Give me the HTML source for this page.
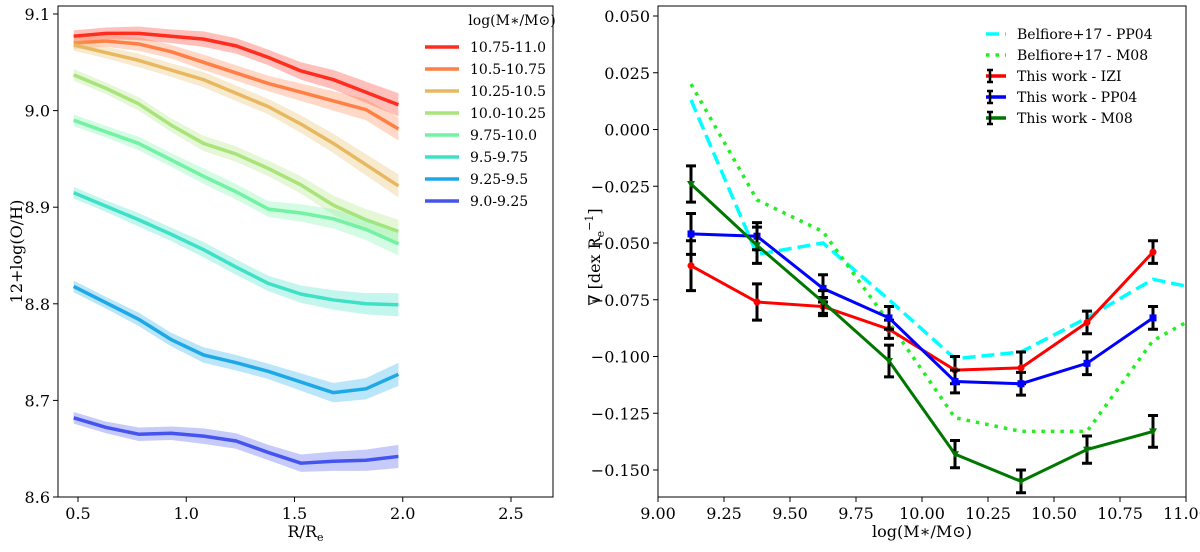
<!DOCTYPE html>
<html><head><meta charset="utf-8">
<style>
html,body{margin:0;padding:0;background:#fff;}
svg{display:block;font-family:"DejaVu Serif","Liberation Serif",serif;}
.tk{font-size:16px;fill:#000;}
.lg{font-family:"DejaVu Serif","Liberation Serif",serif;font-size:14px;fill:#000;}
</style></head>
<body>
<svg id="chart" width="1200" height="552" viewBox="0 0 1200 552"></svg>
<script>
// ---------- Left panel data ----------
const radii = [0.48,0.63,0.78,0.93,1.08,1.23,1.38,1.53,1.68,1.83,1.98];
const massBins = ["10.75-11.0","10.5-10.75","10.25-10.5","10.0-10.25","9.75-10.0","9.5-9.75","9.25-9.5","9.0-9.25"];
const binColors = ["#ff2d1e","#ff7f45","#e8b860","#a8e47a","#72f2a2","#3ee0c6","#1ea8e8","#4454ee"];
const ohRed    = [9.077,9.080,9.080,9.077,9.074,9.067,9.055,9.041,9.032,9.019,9.006];
const ohOrange = [9.070,9.072,9.069,9.061,9.050,9.039,9.028,9.019,9.010,9.001,8.981];
const ohYellow = [9.068,9.060,9.052,9.042,9.032,9.018,9.004,8.986,8.966,8.944,8.922];
const ohGreen  = [9.037,9.023,9.007,8.985,8.966,8.955,8.940,8.923,8.902,8.887,8.875];
const ohMint   = [8.990,8.978,8.966,8.949,8.932,8.916,8.898,8.894,8.888,8.877,8.862];
const ohTurq   = [8.915,8.901,8.887,8.872,8.856,8.838,8.821,8.810,8.804,8.800,8.799];
const ohBlue   = [8.818,8.801,8.784,8.763,8.747,8.739,8.730,8.719,8.708,8.712,8.727];
const ohIndigo = [8.682,8.672,8.665,8.666,8.663,8.658,8.646,8.635,8.637,8.638,8.642];
const ohErr    = [0.006,0.006,0.007,0.007,0.008,0.008,0.008,0.009,0.010,0.011,0.012];
const leftXTicks = [0.5,1.0,1.5,2.0,2.5];
const leftYTicks = [8.6,8.7,8.8,8.9,9.0,9.1];

// ---------- Right panel data ----------
const massCenters = [9.125,9.375,9.625,9.875,10.125,10.375,10.625,10.875];
const belfioreX = [9.125,9.375,9.625,9.875,10.125,10.375,10.625,10.875,11.0];
const belPP04 = [0.013,-0.055,-0.050,-0.075,-0.101,-0.098,-0.083,-0.066,-0.069];
const belM08  = [0.020,-0.031,-0.045,-0.085,-0.127,-0.133,-0.133,-0.093,-0.085];
const gradIZI  = [-0.060,-0.076,-0.078,-0.088,-0.106,-0.105,-0.085,-0.054];
const errIZI   = [0.011,0.008,0.004,0.004,0.006,0.007,0.005,0.005];
const gradPP04 = [-0.046,-0.047,-0.070,-0.083,-0.111,-0.112,-0.103,-0.083];
const errPP04  = [0.009,0.006,0.006,0.005,0.005,0.005,0.005,0.005];
const gradM08  = [-0.024,-0.051,-0.076,-0.102,-0.143,-0.155,-0.141,-0.133];
const errM08   = [0.008,0.008,0.005,0.007,0.006,0.005,0.006,0.007];
const rightXTicks = [9.00,9.25,9.50,9.75,10.00,10.25,10.50,10.75,11.00];
const rightYTicks = [0.050,0.025,0.000,-0.025,-0.050,-0.075,-0.100,-0.125,-0.150];

const svg = document.getElementById('chart');
const NS = "http://www.w3.org/2000/svg";
function mk(tag, attrs, parent){const e=document.createElementNS(NS,tag);for(const k in attrs)e.setAttribute(k,attrs[k]);(parent||svg).appendChild(e);return e;}

const L={x0:58,x1:553,y0:6,y1:497};
const lx = v => 78 + (v-0.5)*216.5;
const ly = v => 497 - (v-8.6)*966;
const R={x0:658,x1:1186,y0:6,y1:497};
const rx = v => 658 + (v-9)*264;
const ry = v => 16 + (0.05-v)*2270;

const seriesL=[ohRed,ohOrange,ohYellow,ohGreen,ohMint,ohTurq,ohBlue,ohIndigo];
seriesL.forEach((s,i)=>{
  let up=s.map((v,j)=>lx(radii[j])+","+ly(v+ohErr[j])).join(" ");
  let dn=s.map((v,j)=>lx(radii[j])+","+ly(v-ohErr[j])).reverse().join(" ");
  const band=mk('polygon',{points:up+" "+dn,fill:binColors[i],'fill-opacity':0.3});
  
  
  const ln=mk('polyline',{points:s.map((v,j)=>lx(radii[j])+","+ly(v)).join(" "),fill:'none',stroke:binColors[i],'stroke-width':3.5,'stroke-linejoin':'round'});
  
  
});
const lf=mk('rect',{x:L.x0,y:L.y0,width:L.x1-L.x0,height:L.y1-L.y0,fill:'none',stroke:'#000','stroke-width':1});

leftXTicks.forEach(t=>{mk('line',{x1:lx(t),x2:lx(t),y1:L.y1,y2:L.y1+5,stroke:'#000'});
  const e=mk('text',{x:lx(t),y:L.y1+22,'text-anchor':'middle',class:'tk'});e.textContent=t.toFixed(1);
  });
leftYTicks.forEach(t=>{mk('line',{x1:L.x0-5,x2:L.x0,y1:ly(t),y2:ly(t),stroke:'#000'});
  const e=mk('text',{x:L.x0-8,y:ly(t)+6,'text-anchor':'end',class:'tk'});e.textContent=t.toFixed(1);
  });
const lt=mk('text',{x:512,y:25,'text-anchor':'middle',class:'lg'});lt.textContent="log(M\u2217/M\u2299)";

massBins.forEach((b,i)=>{const y=47+i*22;
  mk('line',{x1:425,x2:459,y1:y,y2:y,stroke:binColors[i],'stroke-width':3.5});
  const e=mk('text',{x:470,y:y+5,class:'lg'});e.textContent=b;
  });
const lyl=mk('text',{x:0,y:0,'text-anchor':'middle',class:'tk',transform:`translate(22,${(L.y0+L.y1)/2}) rotate(-90)`});lyl.textContent="12+log(O/H)";

const lxl=mk('text',{x:(L.x0+L.x1)/2,y:L.y1+40,'text-anchor':'middle',class:'tk'});lxl.innerHTML='R/R<tspan font-size="11" dy="4">e</tspan>';


const clip=mk('clipPath',{id:'rc'});mk('rect',{x:R.x0,y:R.y0,width:R.x1-R.x0,height:R.y1-R.y0},clip);
const g=mk('g',{'clip-path':'url(#rc)'});
const b1=mk('polyline',{points:belPP04.map((v,j)=>rx(belfioreX[j])+","+ry(v)).join(" "),fill:'none',stroke:'#00ffff','stroke-width':3.5,'stroke-dasharray':'13,6'},g);

const b2=mk('polyline',{points:belM08.map((v,j)=>rx(belfioreX[j])+","+ry(v)).join(" "),fill:'none',stroke:'#22ee22','stroke-width':3.5,'stroke-dasharray':'3.5,6'},g);

const work=[[gradIZI,errIZI,'#ff0000','izi','circle'],[gradPP04,errPP04,'#0000ff','pp04','square'],[gradM08,errM08,'#007700','m08','tri']];
work.forEach(([s,e,c,n,m])=>{
  const ln=mk('polyline',{points:s.map((v,j)=>rx(massCenters[j])+","+ry(v)).join(" "),fill:'none',stroke:c,'stroke-width':3},g);
  
  s.forEach((v,j)=>{const x=rx(massCenters[j]),a=ry(v+e[j]),b=ry(v-e[j]);
    const eb=mk('path',{d:`M${x},${a}V${b}M${x-5},${a}H${x+5}M${x-5},${b}H${x+5}`,stroke:'#000','stroke-width':3,fill:'none'},g);
    
    let mkr;const y=ry(v);
    if(m==='circle')mkr=mk('circle',{cx:x,cy:y,r:3.5,fill:c},g);
    else if(m==='square')mkr=mk('rect',{x:x-3.5,y:y-3.5,width:7,height:7,fill:c},g);
    else mkr=mk('polygon',{points:`${x-4},${y-3} ${x+4},${y-3} ${x},${y+4}`,fill:c},g);
    });
});
const rf=mk('rect',{x:R.x0,y:R.y0,width:R.x1-R.x0,height:R.y1-R.y0,fill:'none',stroke:'#000','stroke-width':1});

rightXTicks.forEach(t=>{mk('line',{x1:rx(t),x2:rx(t),y1:R.y1,y2:R.y1+5,stroke:'#000'});
  const e=mk('text',{x:rx(t),y:R.y1+22,'text-anchor':'middle',class:'tk'});e.textContent=t.toFixed(2);
  });
rightYTicks.forEach(t=>{mk('line',{x1:R.x0-5,x2:R.x0,y1:ry(t),y2:ry(t),stroke:'#000'});
  const e=mk('text',{x:R.x0-8,y:ry(t)+6,'text-anchor':'end',class:'tk'});e.textContent=(t<0?'\u2212':'')+Math.abs(t).toFixed(3);
  });
const ryl=mk('text',{x:0,y:0,'text-anchor':'middle',class:'tk',transform:`translate(600,257) rotate(-90)`});
ryl.innerHTML='\u2207 [dex R<tspan font-size="11" dy="4">e</tspan><tspan font-size="11" dy="-11">\u22121</tspan><tspan dy="7">]</tspan>';

const rxl=mk('text',{x:(R.x0+R.x1)/2,y:R.y1+40,'text-anchor':'middle',class:'tk'});rxl.textContent="log(M\u2217/M\u2299)";

const leg=[['Belfiore+17 - PP04','#00ffff','13,6',false],['Belfiore+17 - M08','#22ee22','3.5,6',false],['This work - IZI','#ff0000','',true],['This work - PP04','#0000ff','',true],['This work - M08','#007700','',true]];
leg.forEach(([t,c,d,eb],i)=>{const y=34+i*21;
  mk('line',{x1:986,x2:1006,y1:y,y2:y,stroke:c,'stroke-width':3.5,'stroke-dasharray':d||'none'});
  if(eb){mk('path',{d:`M990,${y-6}V${y+6}M987,${y-6}H993M987,${y+6}H993`,stroke:'#000','stroke-width':2.5,fill:'none'});}
  const e=mk('text',{x:1017,y:y+5,class:'lg'});e.textContent=t;
  });
</script>
</body></html>
